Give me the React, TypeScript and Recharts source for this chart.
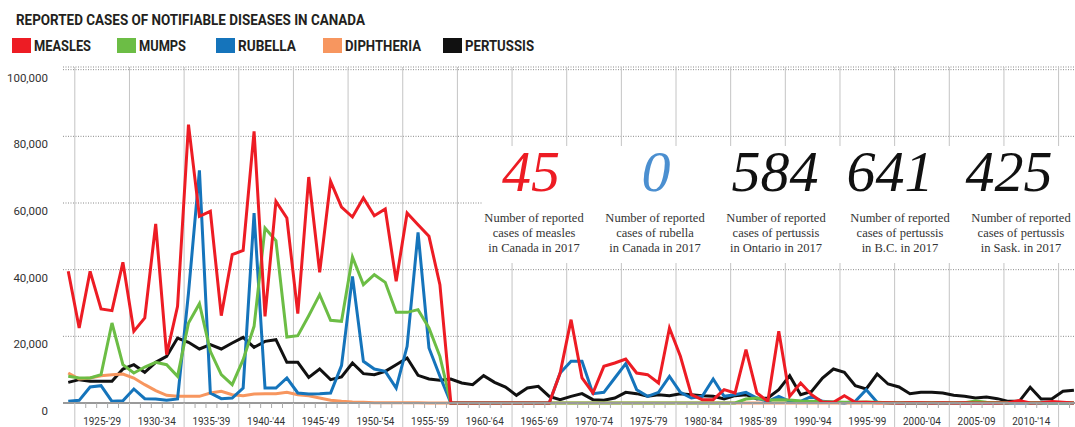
import { LineChart, Line, XAxis, YAxis, CartesianGrid } from "recharts";

// yearly counts, 1924–2016
const YEARS = Array.from({ length: 93 }, (_, i) => 1924 + i);

const MEASLES = [
  39500, 22500, 39500, 28200, 27700, 42200, 21500, 25500, 53700, 14500,
  29000, 83500, 56000, 57500, 26200, 44500, 45800, 81500, 26000, 60500,
  55500, 26800, 67800, 39200, 66500, 58800, 55800, 61500, 56200, 58200,
  36500, 57000, 53500, 50000, 35500, 0, 0, 0, 0, 0,
  0, 0, 0, 0, 0, 9000, 25000, 7500, 3000, 11000,
  12000, 13200, 9000, 8500, 6000, 22500, 14000, 2500, 1000, 1000,
  4000, 3000, 16000, 3000, 500, 21500, 2000, 6000, 2500, 200,
  200, 2200, 200, 200, 50, 50, 30, 100, 40, 20,
  50, 30, 100, 20, 30, 30, 100, 750, 10, 80,
  420, 200, 10,
];

const MUMPS = [
  8000, 7500, 7500, 8500, 24000, 11500, 9000, 10800, 12200, 11500,
  8000, 24000, 29800, 15500, 8500, 5500, 13000, 23000, 52500, 48700,
  19800, 20200, 26200, 32500, 24800, 24500, 43800, 35500, 38500, 36200,
  27200, 27200, 28000, 22500, 14000, 0, 0, 0, 0, 0,
  0, 0, 0, 0, 0, 0, 0, 0, 0, 0,
  0, 0, 0, 0, 0, 0, 0, 0, 0, 0,
  0, 0, 1200, 1500, 800, 1000, 900, 600, 500, 400,
  300, 200, 200, 300, 250, 100, 100, 100, 100, 100,
  100, 100, 100, 600, 200, 100, 100, 200, 100, 100,
  100, 100, 100,
];

const RUBELLA = [
  500, 800, 4800, 5200, 500, 700, 4200, 1300, 1200, 800,
  1200, 33000, 69800, 3000, 1300, 1500, 4500, 57000, 4500, 4500,
  7500, 3000, 2700, 2800, 3000, 11200, 38000, 12500, 10200, 9500,
  4500, 17000, 51200, 16500, 8000, 0, 0, 0, 0, 0,
  0, 0, 0, 0, 0, 9000, 12500, 12500, 2800, 3200,
  7500, 11800, 4000, 2000, 3200, 8000, 3200, 1500, 2000, 7200,
  2000, 2500, 3200, 1500, 500, 2000, 500, 500, 2000, 500,
  200, 0, 500, 4000, 200, 50, 30, 20, 20, 20,
  10, 10, 10, 10, 10, 10, 10, 10, 10, 10,
  5, 5, 0,
];

const DIPHTHERIA = [
  9000, 7200, 7500, 8200, 8500, 8700, 7500, 5500, 3700, 2300,
  2000, 2000, 2000, 3000, 3500, 2500, 2200, 2700, 2800, 2800,
  3200, 2500, 2200, 1500, 800, 500, 300, 200, 100, 80,
  60, 50, 40, 30, 20, 15, 10, 10, 10, 10,
  5, 5, 5, 5, 5, 5, 5, 5, 5, 5,
  5, 5, 5, 5, 5, 5, 5, 5, 5, 5,
  0, 0, 0, 0, 0, 0, 0, 0, 0, 0,
  0, 0, 0, 0, 0, 0, 0, 0, 0, 0,
  0, 0, 0, 0, 0, 0, 0, 0, 0, 0,
  0, 0, 0,
];

const PERTUSSIS = [
  6200, 7000, 6500, 6500, 6500, 10200, 11500, 9200, 12200, 14000,
  19500, 18200, 16200, 17500, 16200, 18000, 19700, 16700, 18500, 19000,
  12200, 12200, 7700, 10200, 7000, 7800, 12000, 8800, 8500, 9500,
  11500, 13500, 8300, 7200, 6800, 7200, 6000, 5500, 8200, 6200,
  4800, 2300, 4500, 5000, 2000, 1000, 2000, 2800, 1000, 800,
  1500, 3200, 2800, 2000, 2500, 2200, 2800, 2500, 2200, 2000,
  1200, 2200, 2500, 1200, 1500, 4000, 8200, 2500, 3500, 7500,
  10200, 9200, 5200, 4200, 8700, 5700, 4800, 2800, 3200, 3200,
  3000, 2300, 2000, 1500, 1800, 1300, 500, 500, 4700, 1200,
  1300, 3500, 3800,
];

const PERIOD_LABELS = [
  "1925-'29", "1930-'34", "1935-'39", "1940-'44", "1945-'49", "1950-'54",
  "1955-'59", "1960-'64", "1965-'69", "1970-'74", "1975-'79", "1980-'84",
  "1985-'89", "1990-'94", "1995-'99", "2000-'04", "2005-'09", "2010-'14",
];

const VALUE_TICKS = [0, 20000, 40000, 60000, 80000, 100000];

const SERIES = [
  { key: "measles", name: "MEASLES", color: "#ed1c24" },
  { key: "mumps", name: "MUMPS", color: "#6cbd45" },
  { key: "rubella", name: "RUBELLA", color: "#1574bb" },
  { key: "diphtheria", name: "DIPHTHERIA", color: "#f7965f" },
  { key: "pertussis", name: "PERTUSSIS", color: "#111111" },
];

const CALLOUTS = [
  { value: "45", color: "#ed1c24", lines: ["Number of reported", "cases of measles", "in Canada in 2017"] },
  { value: "0", color: "#4b8fd0", lines: ["Number of reported", "cases of rubella", "in Canada in 2017"] },
  { value: "584", color: "#111111", lines: ["Number of reported", "cases of pertussis", "in Ontario in 2017"] },
  { value: "641", color: "#111111", lines: ["Number of reported", "cases of pertussis", "in B.C. in 2017"] },
  { value: "425", color: "#111111", lines: ["Number of reported", "cases of pertussis", "in Sask. in 2017"] },
];

const rows = YEARS.map((year, i) => ({
  year,
  measles: MEASLES[i],
  mumps: MUMPS[i],
  rubella: RUBELLA[i],
  diphtheria: DIPHTHERIA[i],
  pertussis: PERTUSSIS[i],
}));

// gridlines sit between year points; labels are centred in each 5-year band
const GRID_START = 1924.6;
const GRID_YEARS = Array.from({ length: 19 }, (_, k) => GRID_START + 5 * k);
const YEAR_TICKS = Array.from({ length: 92 }, (_, n) => GRID_START + n);
const LABEL_TICKS = PERIOD_LABELS.map((_, k) => GRID_START + 2.5 + 5 * k);
const X_TICKS = [...YEAR_TICKS, ...LABEL_TICKS].sort((a, b) => a - b);

const FONT = "Roboto, 'Liberation Sans', sans-serif";
const SERIF = "'Liberation Serif', 'DejaVu Serif', serif";

function YearTick(props: any) {
  const { x, y, payload } = props;
  const v = payload.value as number;
  const frac = v - Math.floor(v);
  if (frac < 0.35) {
    const k = Math.round((v - GRID_START - 2.5) / 5);
    return (
      <text x={x} y={y + 22} textAnchor="middle" fontFamily={FONT} fontSize={11.5} fill="#333"
        textLength={38} lengthAdjust="spacingAndGlyphs">
        {PERIOD_LABELS[k]}
      </text>
    );
  }
  const major = Math.round(v - GRID_START) % 5 === 0;
  return (
    <line x1={x} x2={x} y1={y} y2={y + (major ? 24 : 5)} stroke={major ? "#c4c4c4" : "#aaa"} strokeWidth={1} />
  );
}

function ValueTick(props: any) {
  const { x, y, payload } = props;
  return (
    <text x={x} y={y + 12} textAnchor="end" fontFamily={FONT} fontSize={11.5} fill="#333">
      {payload.value.toLocaleString("en-US")}
    </text>
  );
}

const LEGEND_BOX_X = [12, 117, 216, 323, 443];
const LEGEND_TEXT_W = [57, 47, 58, 76, 69];
const CALLOUT_NUM_X = [531, 656, 775, 890, 1009];
const CALLOUT_TEXT_X = [534, 655, 776, 900, 1021];

export default function App() {
  return (
    <div style={{ position: "absolute", left: 0, top: 0, width: 1075, height: 427, background: "#fff", fontFamily: FONT }}>
      <LineChart width={1075} height={427} data={rows} margin={{ top: 67, right: 0, bottom: 0, left: 0 }}>
        <CartesianGrid vertical={false} stroke="#8a8a8a" strokeDasharray="1 1.5" />
        <CartesianGrid horizontal={false} stroke="#c4c4c4" verticalValues={GRID_YEARS} />
        <XAxis
          dataKey="year"
          type="number"
          domain={[1923.52, 2016.1]}
          ticks={X_TICKS}
          interval={0}
          height={24}
          tickSize={0}
          tickMargin={0}
          tickLine={false}
          axisLine={{ stroke: "#9a9a9a", strokeWidth: 2 }}
          tick={<YearTick />}
        />
        <YAxis
          width={63}
          domain={[0, 100800]}
          ticks={VALUE_TICKS}
          tickSize={0}
          tickMargin={15}
          axisLine={false}
          tickLine={false}
          tick={<ValueTick />}
        />
        {[...SERIES].reverse().map((s) => (
          <Line
            key={s.key}
            dataKey={s.key}
            stroke={s.color}
            strokeWidth={3}
            dot={false}
            type="linear"
            isAnimationActive={false}
          />
        ))}
      </LineChart>
      <svg width={1075} height={427} style={{ position: "absolute", left: 0, top: 0, pointerEvents: "none" }}>
        <text x={16} y={25} fontFamily={FONT} fontWeight={700} fontSize={14} fill="#231f20"
          textLength={349} lengthAdjust="spacingAndGlyphs">
          REPORTED CASES OF NOTIFIABLE DISEASES IN CANADA
        </text>
        {SERIES.map((s, i) => (
          <g key={s.key}>
            <rect x={LEGEND_BOX_X[i]} y={38} width={19} height={15} fill={s.color} />
            <text x={LEGEND_BOX_X[i] + 22} y={51} fontFamily={FONT} fontWeight={700} fontSize={14} fill="#231f20"
              textLength={LEGEND_TEXT_W[i]} lengthAdjust="spacingAndGlyphs">
              {s.name}
            </text>
          </g>
        ))}
        <rect x={483} y={146} width={592} height={117} fill="#fff" />
        {CALLOUTS.map((c, i) => (
          <g key={c.value}>
            <text x={CALLOUT_NUM_X[i]} y={191} textAnchor="middle" fontFamily={SERIF} fontStyle="italic"
              fontSize={58} fill={c.color}>
              {c.value}
            </text>
            {c.lines.map((line, j) => (
              <text key={j} x={CALLOUT_TEXT_X[i]} y={222 + j * 15} textAnchor="middle" fontFamily={SERIF}
                fontSize={12.5} fill="#333">
                {line}
              </text>
            ))}
          </g>
        ))}
      </svg>
    </div>
  );
}
